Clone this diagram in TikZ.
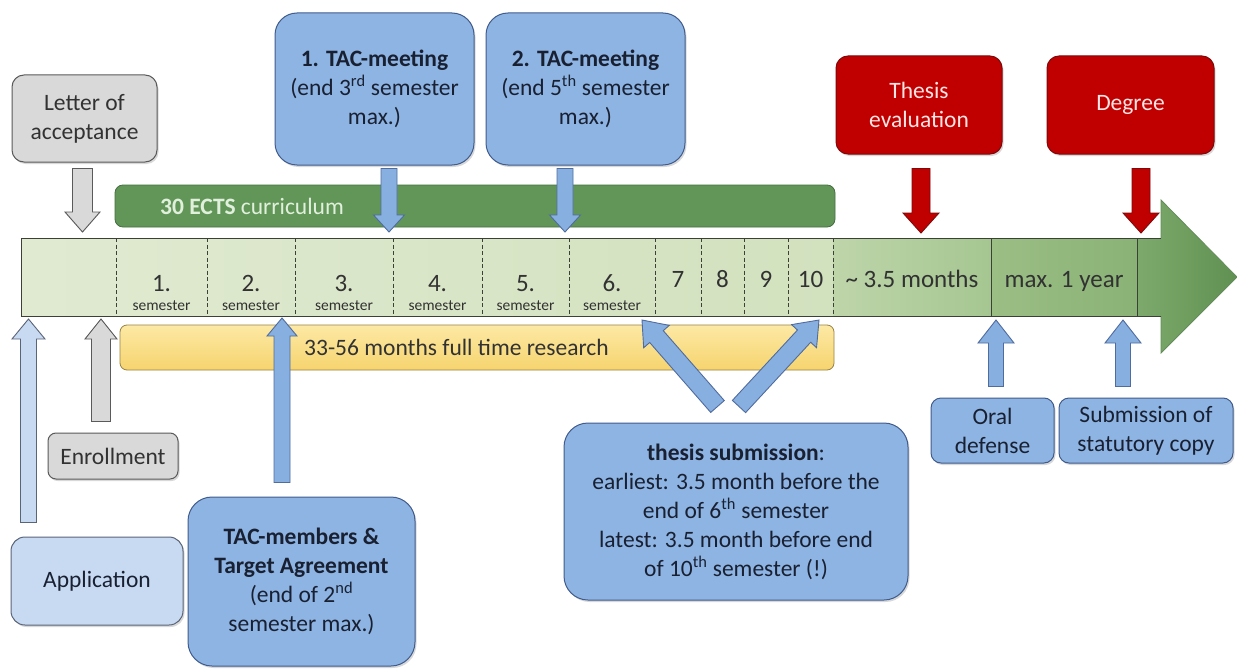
\documentclass[tikz,border=0pt]{standalone}
\usepackage{fontspec}
\setmainfont{Carlito}
\usetikzlibrary{calc,shadows}
\definecolor{bblue}{RGB}{141,180,226}
\definecolor{bblueline}{RGB}{65,92,140}
\definecolor{ablue}{RGB}{135,175,224}
\definecolor{abline}{RGB}{80,108,158}
\definecolor{lblue}{RGB}{200,218,241}
\definecolor{lblueline}{RGB}{90,100,120}
\definecolor{bgray}{RGB}{217,217,217}
\definecolor{bgrayline}{RGB}{90,90,90}
\definecolor{bred}{RGB}{192,0,0}
\definecolor{bredline}{RGB}{125,10,10}
\definecolor{txtdark}{RGB}{25,32,50}
\definecolor{txtgray}{RGB}{50,50,50}
\definecolor{redtxt}{RGB}{255,228,228}
\definecolor{ectsgreen}{RGB}{98,150,88}
\definecolor{ectsline}{RGB}{70,110,65}
\definecolor{ectstxt}{RGB}{225,240,220}
\definecolor{ybar}{RGB}{246,212,110}
\definecolor{ybartop}{RGB}{253,233,165}
\definecolor{ybarline}{RGB}{150,130,70}
\definecolor{tlA}{RGB}{224,234,209}
\definecolor{tlB}{RGB}{210,225,190}
\definecolor{tlC}{RGB}{190,213,170}
\definecolor{tlD}{RGB}{165,198,145}
\definecolor{tlE}{RGB}{155,190,133}
\definecolor{tlF}{RGB}{138,178,118}
\definecolor{tlG}{RGB}{125,170,108}
\definecolor{tlH}{RGB}{96,145,82}
\definecolor{tlline}{RGB}{60,65,55}
\definecolor{headline}{RGB}{100,140,90}
\newcommand\blockarrow[6]{%
  \coordinate (bas) at (#2);
  \coordinate (bae) at (#3);
  \coordinate (bah) at ($(bae)!#6!(bas)$);
  \draw[#1] ($(bas)!#4!90:(bae)$) -- ($(bah)!#4!-90:(bas)$) -- ($(bah)!#5!-90:(bas)$) -- (bae) -- ($(bah)!#5!90:(bas)$) -- ($(bah)!#4!90:(bas)$) -- ($(bas)!#4!-90:(bae)$) -- cycle;
}
\begin{document}
\begin{tikzpicture}[x=1pt,y=-1pt,
  font=\fontsize{23.5}{29}\selectfont,
  box/.style={draw, line width=1pt, align=center, inner sep=0pt,
    drop shadow={opacity=0.3, shadow xshift=1.5pt, shadow yshift=-2pt}},
  bluebox/.style={box, fill=bblue, draw=bblueline, text=txtdark},
  lbluebox/.style={box, fill=lblue, draw=lblueline, text=txtdark},
  graybox/.style={box, fill=bgray, draw=bgrayline, text=txtgray},
  redbox/.style={box, fill=bred, draw=bredline, text=redtxt},
  grayarrow/.style={fill=bgray, draw=bgrayline, line width=0.9pt},
  bluearrow/.style={fill=ablue, draw=abline, line width=0.9pt},
  lbluearrow/.style={fill=lblue, draw=lblueline, line width=0.9pt},
  redarrow/.style={fill=bred, draw=bredline, line width=0.9pt},
  sepline/.style={draw=tlline, line width=1pt, dash pattern=on 4pt off 2.5pt},
  numlbl/.style={anchor=base, text=txtgray, font=\fontsize{25}{25}\selectfont},
  semlbl/.style={anchor=base, text=txtgray, font=\fontsize{15.5}{15.5}\selectfont}]
\fill[white] (0,0) rectangle (1237,669);
\useasboundingbox (0,0) rectangle (1237,669);

% ---------- timeline arrow ----------
\shade[left color=tlA, right color=tlB] (21,238) rectangle (833,316);
\shade[left color=tlC, right color=tlD] (833,238) rectangle (991,316);
\shade[left color=tlE, right color=tlF] (991,238) rectangle (1137,316);
\shade[left color=tlG, right color=tlH] (1137,238) -- (1161,238) -- (1161,200) -- (1237,277) -- (1161,353) -- (1161,316) -- (1137,316) -- cycle;
\draw[headline, line width=0.8pt] (1161,238) -- (1161,200) -- (1237,277) -- (1161,353) -- (1161,316);
\draw[tlline, line width=1pt] (1161,238) -- (21,238) -- (21,316) -- (1161,316);
\foreach \x in {116,207,295,393,482,569,655,701,744,788,833}
  \draw[sepline] (\x,238) -- (\x,316);
\foreach \x in {991,1137}
  \draw[tlline, line width=0.8pt] (\x,238) -- (\x,316);

\foreach \x/\n in {161.5/1,251/2,344/3,437.5/4,525.5/5,612/6}{
  \node[numlbl] at (\x,291) {\n.};
  \node[semlbl] at (\x,310) {semester};
}
\foreach \x/\n in {678/7,722.5/8,766/9,810.5/10}
  \node[numlbl] at (\x,287) {\n};
\node[numlbl] (months) at (912,287) {\textasciitilde{} 3.5 months};
\node[numlbl] (year) at (1064,287) {max. 1 year};

% ---------- bars ----------
\node[fill=ectsgreen, draw=ectsline, line width=0.8pt, rounded corners=8pt,
  minimum width=720pt, minimum height=42pt, inner sep=0pt] (ects) at (475,206) {};
\node[anchor=west, text=ectstxt, inner sep=0pt] at (160,206) {\textbf{30 ECTS} curriculum};
\node[top color=ybartop, bottom color=ybar, draw=ybarline, line width=0.8pt, rounded corners=7pt,
  minimum width=714pt, minimum height=45pt, inner sep=0pt] (research) at (477,347.5) {};
\node[anchor=west, text=txtgray, inner sep=0pt] at (304,347.5) {33-56 months full time research};

% ---------- boxes ----------
\node[graybox, minimum width=145pt, minimum height=87pt, rounded corners=12pt] (letter) at (84.5,118.5) {Letter of\\acceptance};
\node[bluebox, minimum width=199pt, minimum height=152pt, rounded corners=22pt] (tac1) at (374.5,89) {\textbf{1. TAC-meeting}\\(end 3\textsuperscript{rd} semester\\max.)};
\node[bluebox, minimum width=199pt, minimum height=152pt, rounded corners=22pt] (tac2) at (585.5,89) {\textbf{2. TAC-meeting}\\(end 5\textsuperscript{th} semester\\max.)};
\node[redbox, minimum width=166pt, minimum height=98pt, rounded corners=12pt] (evalbox) at (919,105) {Thesis\\evaluation};
\node[redbox, minimum width=167pt, minimum height=98pt, rounded corners=12pt] (degree) at (1130.5,105) {Degree};
\node[graybox, minimum width=130pt, minimum height=46pt, rounded corners=8pt] (enroll) at (113,456) {Enrollment};
\node[lbluebox, minimum width=172pt, minimum height=88pt, rounded corners=14pt] (appl) at (97,581) {Application};
\node[bluebox, minimum width=227pt, minimum height=169pt, rounded corners=24pt] (members) at (301.5,581.5) {\textbf{TAC-members \&}\\\textbf{Target Agreement}\\(end of 2\textsuperscript{nd}\\semester max.)};
\node[bluebox, minimum width=344pt, minimum height=177pt, rounded corners=24pt] (thesis) at (736,511.5) {\textbf{thesis submission}:\\earliest: 3.5 month before the\\end of 6\textsuperscript{th} semester\\latest: 3.5 month before end\\of 10\textsuperscript{th} semester (!)};
\node[bluebox, minimum width=123pt, minimum height=65pt, rounded corners=10pt] (oral) at (992.5,430.5) {Oral\\defense};
\node[bluebox, minimum width=174pt, minimum height=65pt, rounded corners=10pt] (statcopy) at (1146,430.5) {Submission of\\statutory copy};

% ---------- arrow targets on the timeline ----------
\coordinate (tLetter) at (82.5,232);
\coordinate (tTac1) at (389,232);
\coordinate (tTac2) at (565,232);
\coordinate (tEval) at (921,233);
\coordinate (tDeg) at (1141,233);
\coordinate (tAppl) at (28.5,319);
\coordinate (tEnr) at (101,319);
\coordinate (tMem) at (282,318);
\coordinate (tEarly) at (642,320);
\coordinate (tLate) at (819,320);
\coordinate (tOral) at (996,320);
\coordinate (tStat) at (1123,320);

% ---------- block arrows ----------
\blockarrow{grayarrow}{$(letter.south -| tLetter)+(0,6)$}{tLetter}{10pt}{17.5pt}{20pt}
\blockarrow{bluearrow}{$(tac1.south -| tTac1)+(0,3)$}{tTac1}{8pt}{15.5pt}{17pt}
\blockarrow{bluearrow}{$(tac2.south -| tTac2)+(0,3)$}{tTac2}{8pt}{15.5pt}{17pt}
\blockarrow{redarrow}{$(evalbox.south -| tEval)+(0,14)$}{tEval}{9pt}{18pt}{20pt}
\blockarrow{redarrow}{$(degree.south -| tDeg)+(0,14)$}{tDeg}{9pt}{18pt}{20pt}
\blockarrow{lbluearrow}{$(appl.north -| tAppl)+(0,-14)$}{tAppl}{8pt}{16.5pt}{20pt}
\blockarrow{grayarrow}{$(enroll.north -| tEnr)+(0,-11)$}{tEnr}{9.5pt}{16pt}{20pt}
\blockarrow{bluearrow}{$(members.north -| tMem)+(0,-14)$}{tMem}{8pt}{15pt}{18pt}
\blockarrow{bluearrow}{$(thesis.north)+(-18.5,-16)$}{tEarly}{9pt}{17pt}{22pt}
\blockarrow{bluearrow}{$(thesis.north)+(3,-16)$}{tLate}{9pt}{17pt}{22pt}
\blockarrow{bluearrow}{$(oral.north -| tOral)+(0,-11)$}{tOral}{7.5pt}{18pt}{23pt}
\blockarrow{bluearrow}{$(statcopy.north -| tStat)+(0,-11)$}{tStat}{7.5pt}{18pt}{23pt}
\end{tikzpicture}
\end{document}
